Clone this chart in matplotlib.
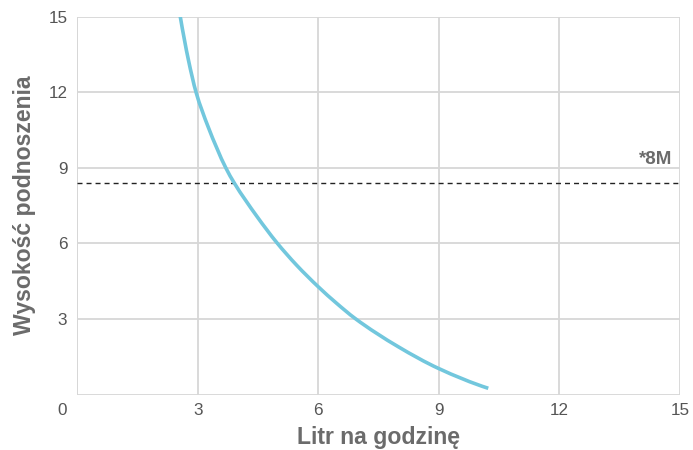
import matplotlib
matplotlib.use("Agg")
import numpy as np
import matplotlib.pyplot as plt
from matplotlib.path import Path
from matplotlib.patches import PathPatch
from matplotlib.transforms import ScaledTranslation

# Data
flow = [2.567, 2.77, 2.96, 3.26, 3.70, 3.91, 4.48, 4.97, 5.46, 6.0, 6.46, 6.91, 7.99, 8.99, 10.23]
head = [15.0, 13.28, 12.0, 10.63, 9.0, 8.4, 7.06, 6.03, 5.14, 4.28, 3.62, 3.03, 1.90, 1.04, 0.25]
max_head = 8.4
max_label = "*8M"
x_ticks = [0, 3, 6, 9, 12, 15]
y_ticks = [3, 6, 9, 12, 15]
x_label = "Litr na godzinę"
y_label = "Wysokość podnoszenia"


def spline_path(xs, ys):
    """Smooth (monotone cubic Hermite) Bezier path through the points."""
    x = np.asarray(xs, float)
    y = np.asarray(ys, float)
    h = np.diff(x)
    d = np.diff(y) / h
    n = len(x)
    m = np.zeros(n)
    for k in range(1, n - 1):
        if d[k - 1] * d[k] <= 0:
            m[k] = 0.0
        else:
            w1 = 2 * h[k] + h[k - 1]
            w2 = h[k] + 2 * h[k - 1]
            m[k] = (w1 + w2) / (w1 / d[k - 1] + w2 / d[k])
    m[0] = ((2 * h[0] + h[1]) * d[0] - h[0] * d[1]) / (h[0] + h[1])
    m[-1] = ((2 * h[-1] + h[-2]) * d[-1] - h[-1] * d[-2]) / (h[-1] + h[-2])
    verts = [(x[0], y[0])]
    codes = [Path.MOVETO]
    for k in range(n - 1):
        c1 = (x[k] + h[k] / 3, y[k] + m[k] * h[k] / 3)
        c2 = (x[k + 1] - h[k] / 3, y[k + 1] - m[k + 1] * h[k] / 3)
        verts += [c1, c2, (x[k + 1], y[k + 1])]
        codes += [Path.CURVE4] * 3
    return Path(verts, codes)


plt.rcParams['font.family'] = ['Liberation Sans', 'DejaVu Sans']

fig = plt.figure(figsize=(6.93, 4.5), dpi=100)
ax = fig.add_axes([77.1/693, 1-394.6/450, (680-77.1)/693, (394.6-16.7)/450])

ax.set_xlim(0, 15)
ax.set_ylim(0, 15)
ax.set_xticks(x_ticks)
ax.set_yticks(y_ticks)
for s in ax.spines.values():
    s.set_visible(False)
ax.grid(True, color='#d7d7d7', linewidth=1.3)
ax.set_axisbelow(True)
ax.axvline(0, color='#d7d7d7', linewidth=1.3, zorder=0.5)
ax.axhline(0, color='#d7d7d7', linewidth=1.3, zorder=0.5)

ax.tick_params(axis='both', length=0, labelsize=12.3, labelcolor='#555555')
ax.tick_params(axis='x', pad=6)
ax.tick_params(axis='y', pad=7)

lab0 = ax.get_xticklabels()[0]
lab0.set_transform(lab0.get_transform() + ScaledTranslation(-15/100, 0, fig.dpi_scale_trans))

curve = PathPatch(spline_path(flow, head), facecolor='none', edgecolor='#72c7dd',
                  linewidth=2.6, capstyle='butt', joinstyle='round', zorder=3)
ax.add_patch(curve)
ax.axhline(max_head, color='#222222', linewidth=1.0, linestyle=(0, (3.6, 2.9)), zorder=2)
ax.text(14.82, 9.17, max_label, ha='right', va='baseline', fontsize=13.5,
        fontweight='bold', color='#6b6b6b')

ax.set_xlabel(x_label, fontsize=16.6, fontweight='bold', color='#6b6b6b', labelpad=6)
ax.set_ylabel(y_label, fontsize=16.6, fontweight='bold', color='#6b6b6b', labelpad=9)

fig.savefig("out.png", dpi=100)
